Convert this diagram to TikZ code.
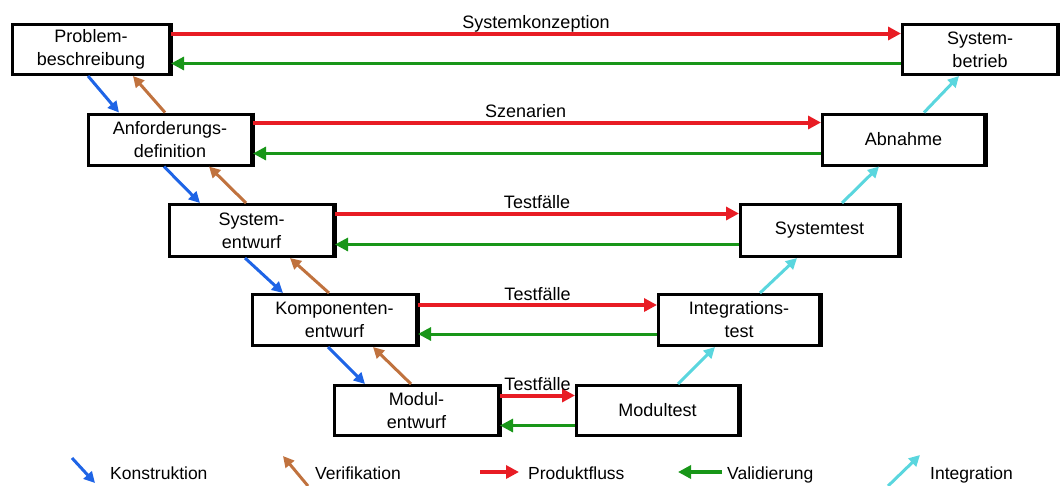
\documentclass[tikz,border=0pt]{standalone}
\usepackage{fontspec}
\setmainfont{Liberation Sans}
\usetikzlibrary{arrows.meta}
\definecolor{prodred}{RGB}{232,28,36}
\definecolor{valgreen}{RGB}{24,150,24}
\definecolor{konblue}{RGB}{30,100,230}
\definecolor{verbrown}{RGB}{192,114,62}
\definecolor{intcyan}{RGB}{90,214,222}

\begin{document}
\begin{tikzpicture}[x=1pt,y=-1pt,
  phase/.style={draw, line width=3pt, fill=white, align=center, inner sep=0pt,
    font=\fontsize{18}{23}\selectfont},
  tip/.style={-{Triangle[length=13pt,width=13pt]}},
  smalltip/.style={-{Triangle[length=11pt,width=11pt]}},
  prod/.style={tip, draw=prodred, line width=4pt},
  valid/.style={tip, draw=valgreen, line width=3pt},
  konstr/.style={smalltip, draw=konblue, line width=3pt},
  verif/.style={smalltip, draw=verbrown, line width=3pt},
  integr/.style={smalltip, draw=intcyan, line width=3pt},
  lbl/.style={midway, anchor=base, yshift=5pt, inner sep=0pt, text=black,
    font=\fontsize{18}{21}\selectfont},
  legend/.style={anchor=base west, inner sep=0pt, font=\fontsize{17.5}{20}\selectfont}
]
\useasboundingbox (0,0) rectangle (1060,485);

% Left branch: specification phases
\node[phase, minimum width=157pt, minimum height=50pt] (prob) at (91,49.5) {Problem-\\beschreibung};
\node[phase, minimum width=163pt, minimum height=51pt] (anf) at (170,139.5) {Anforderungs-\\definition};
\node[phase, minimum width=164pt, minimum height=52pt] (sys) at (251.5,230.5) {System-\\entwurf};
\node[phase, minimum width=164pt, minimum height=51pt] (komp) at (334.5,320) {Komponenten-\\entwurf};
\node[phase, minimum width=164pt, minimum height=50pt] (modul) at (416.5,410.5) {Modul-\\entwurf};

% Right branch: test and operation phases
\node[phase, minimum width=155pt, minimum height=50pt] (betr) at (980,49.5) {System-\\betrieb};
\node[phase, minimum width=162pt, minimum height=51pt] (abn) at (903.5,139.5) {Abnahme};
\node[phase, minimum width=158pt, minimum height=52pt] (systest) at (819.5,230.5) {Systemtest};
\node[phase, minimum width=161pt, minimum height=51pt] (integ) at (739,320) {Integrations-\\test};
\node[phase, minimum width=162pt, minimum height=50pt] (modtest) at (657.5,410.5) {Modultest};

% heavier right edges of the boxes
\foreach \n in {prob,anf,sys,komp,modul,betr,abn,systest,integ,modtest}
  \draw[line width=4.5pt] (\n.north east) -- (\n.south east);

% Product flow (red) and validation (green) between matching levels
\draw[prod] ([yshift=16pt]prob.east) -- node[lbl]{Systemkonzeption} ([yshift=16pt]betr.west);
\draw[valid] ([yshift=-14pt]betr.west) -- ([yshift=-14pt]prob.east);
\draw[prod] ([yshift=17pt]anf.east) -- node[lbl, pos=0.48]{Szenarien} ([yshift=17pt]abn.west);
\draw[valid] ([yshift=-14pt]abn.west) -- ([yshift=-14pt]anf.east);
\draw[prod] ([yshift=17pt]sys.east) -- node[lbl]{Testfälle} ([yshift=17pt]systest.west);
\draw[valid] ([yshift=-14pt]systest.west) -- ([yshift=-14pt]sys.east);
\draw[prod] ([yshift=15pt]komp.east) -- node[lbl]{Testfälle} ([yshift=15pt]integ.west);
\draw[valid] ([yshift=-14pt]integ.west) -- ([yshift=-14pt]komp.east);
\draw[prod] ([yshift=15pt]modul.east) -- node[lbl]{Testfälle} ([yshift=15pt]modtest.west);
\draw[valid] ([yshift=-15pt]modtest.west) -- ([yshift=-15pt]modul.east);

% Construction (blue) down the left branch, verification (brown) back up
\foreach \a/\b in {prob/anf, anf/sys, sys/komp, komp/modul} {
  \draw[konstr] ([xshift=77pt]\a.south west) -- ([xshift=32pt]\b.north west);
  \draw[verif] ([xshift=78pt]\b.north west) -- ([xshift=122pt]\a.south west);
}

% Integration (cyan) up the right branch
\foreach \a/\b in {modtest/integ, integ/systest, systest/abn, abn/betr}
  \draw[integr] ([xshift=103pt]\a.north west) -- ([xshift=58pt]\b.south west);

% Legend
\coordinate (k1) at (72,458); \coordinate (k2) at (95,483);
\draw[konstr] (k1) -- (k2);
\node[legend] (kl) at (110,479) {Konstruktion};
\coordinate (v1) at (308,486); \coordinate (v2) at (283,456);
\draw[verif] (v1) -- (v2);
\node[legend] (vl) at (315,479) {Verifikation};
\coordinate (p1) at (480,472); \coordinate (p2) at (519,472);
\draw[prod] (p1) -- (p2);
\node[legend] (pl) at (528,479) {Produktfluss};
\coordinate (g1) at (722,472); \coordinate (g2) at (678,472);
\draw[valid, line width=4pt] (g1) -- (g2);
\node[legend] (gl) at (727,479) {Validierung};
\coordinate (i1) at (888,486); \coordinate (i2) at (920,455);
\draw[integr] (i1) -- (i2);
\node[legend] (il) at (930,479) {Integration};
\end{tikzpicture}
\end{document}
